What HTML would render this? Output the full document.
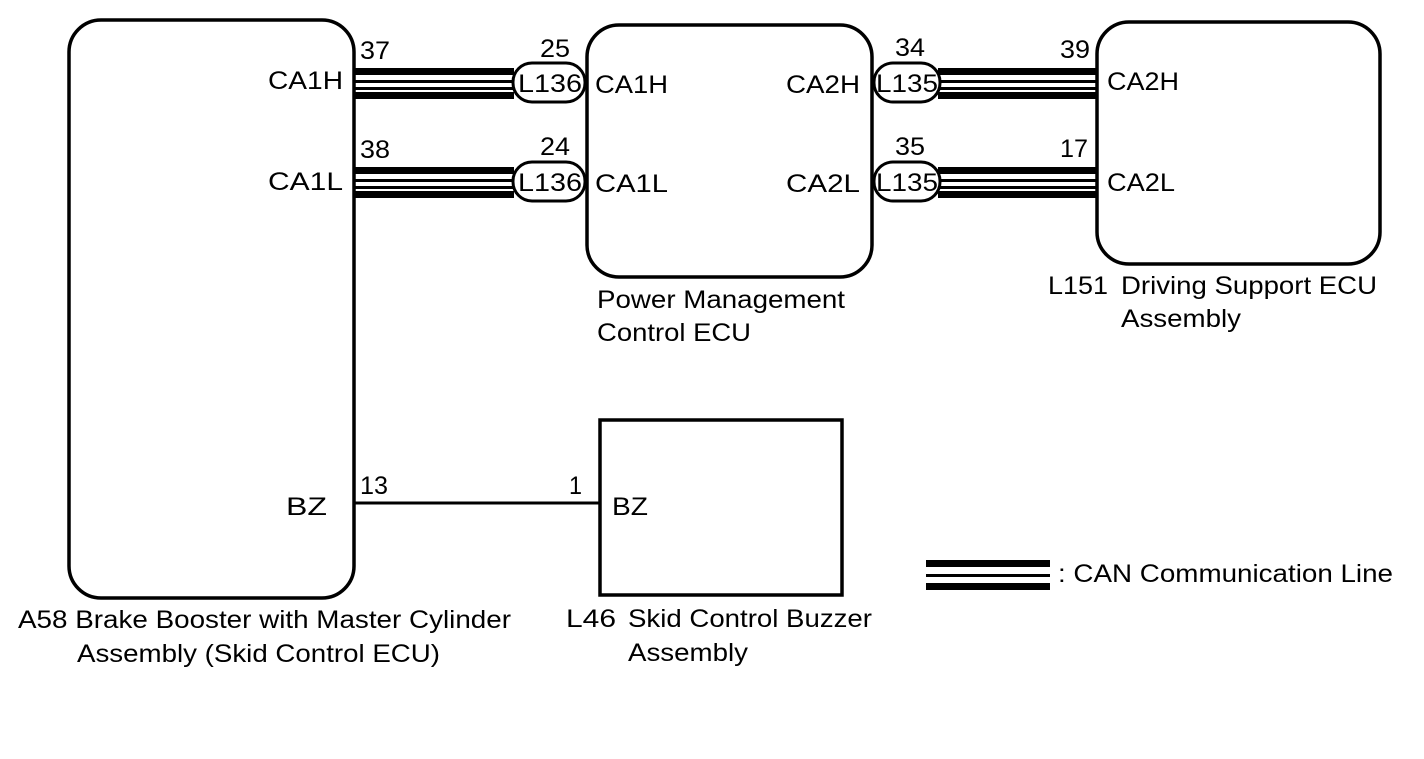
<!DOCTYPE html>
<html><head><meta charset="utf-8"><style>
html,body{margin:0;padding:0;background:#fff;}
svg{display:block;}
text{font-family:"Liberation Sans",Arial,sans-serif;font-size:25px;fill:#000;}
</style></head><body>
<svg width="1424" height="759" viewBox="0 0 1424 759" xmlns="http://www.w3.org/2000/svg">
<g fill="none" stroke="#000" stroke-width="3.5">
<rect x="69" y="20" width="285" height="578" rx="32"/>
<rect x="587" y="25" width="285" height="252" rx="32"/>
<rect x="1097" y="22" width="283" height="242" rx="32"/>
<rect x="600" y="420" width="242" height="175"/>
<line x1="354" y1="503" x2="600" y2="503" stroke-width="3"/>
</g>
<g fill="#000">
<rect x="354" y="68" width="160" height="7"/><rect x="354" y="80" width="160" height="3"/><rect x="354" y="87" width="160" height="3"/><rect x="354" y="92" width="160" height="7"/>
<rect x="354" y="167" width="160" height="7"/><rect x="354" y="179" width="160" height="3"/><rect x="354" y="186" width="160" height="3"/><rect x="354" y="191" width="160" height="7"/>
<rect x="938" y="68" width="159" height="7"/><rect x="938" y="80" width="159" height="3"/><rect x="938" y="87" width="159" height="3"/><rect x="938" y="92" width="159" height="7"/>
<rect x="938" y="167" width="159" height="7"/><rect x="938" y="179" width="159" height="3"/><rect x="938" y="186" width="159" height="3"/><rect x="938" y="191" width="159" height="7"/>
<rect x="926" y="560" width="124" height="7"/><rect x="926" y="574" width="124" height="3"/><rect x="926" y="583" width="124" height="7"/>
</g>
<g fill="#fff" stroke="#000" stroke-width="3">
<rect x="513" y="63" width="72" height="39" rx="19"/>
<rect x="513" y="162" width="72" height="39" rx="19"/>
<rect x="874" y="63" width="66" height="39" rx="19"/>
<rect x="874" y="162" width="66" height="39" rx="19"/>
</g>
<g lengthAdjust="spacingAndGlyphs">
<text x="518" y="92" textLength="64" lengthAdjust="spacingAndGlyphs">L136</text>
<text x="518" y="191" textLength="64" lengthAdjust="spacingAndGlyphs">L136</text>
<text x="876" y="92" textLength="62" lengthAdjust="spacingAndGlyphs">L135</text>
<text x="876" y="191" textLength="62" lengthAdjust="spacingAndGlyphs">L135</text>
<text x="268" y="89" textLength="75" lengthAdjust="spacingAndGlyphs">CA1H</text>
<text x="268" y="190" textLength="75" lengthAdjust="spacingAndGlyphs">CA1L</text>
<text x="360" y="59" textLength="30" lengthAdjust="spacingAndGlyphs">37</text><text x="360" y="158" textLength="30" lengthAdjust="spacingAndGlyphs">38</text>
<text x="540" y="57" textLength="30" lengthAdjust="spacingAndGlyphs">25</text><text x="540" y="155" textLength="30" lengthAdjust="spacingAndGlyphs">24</text>
<text x="595" y="93" textLength="73" lengthAdjust="spacingAndGlyphs">CA1H</text><text x="595" y="192" textLength="73" lengthAdjust="spacingAndGlyphs">CA1L</text>
<text x="786" y="93" textLength="74" lengthAdjust="spacingAndGlyphs">CA2H</text><text x="786" y="192" textLength="74" lengthAdjust="spacingAndGlyphs">CA2L</text>
<text x="895" y="56" textLength="30" lengthAdjust="spacingAndGlyphs">34</text><text x="895" y="155" textLength="30" lengthAdjust="spacingAndGlyphs">35</text>
<text x="1060" y="58" textLength="30" lengthAdjust="spacingAndGlyphs">39</text><text x="1060" y="157" textLength="28" lengthAdjust="spacingAndGlyphs">17</text>
<text x="1107" y="90" textLength="72" lengthAdjust="spacingAndGlyphs">CA2H</text><text x="1107" y="191" textLength="68" lengthAdjust="spacingAndGlyphs">CA2L</text>
<text x="597" y="308" textLength="248" lengthAdjust="spacingAndGlyphs">Power Management</text>
<text x="597" y="341" textLength="154" lengthAdjust="spacingAndGlyphs">Control ECU</text>
<text x="1048" y="294" textLength="60" lengthAdjust="spacingAndGlyphs">L151</text>
<text x="1121" y="294" textLength="256" lengthAdjust="spacingAndGlyphs">Driving Support ECU</text>
<text x="1121" y="327" textLength="120" lengthAdjust="spacingAndGlyphs">Assembly</text>
<text x="286" y="515" textLength="41" lengthAdjust="spacingAndGlyphs">BZ</text>
<text x="612" y="515" textLength="36" lengthAdjust="spacingAndGlyphs">BZ</text>
<text x="360" y="494" textLength="28" lengthAdjust="spacingAndGlyphs">13</text><text x="569" y="494" textLength="13" lengthAdjust="spacingAndGlyphs">1</text>
<text x="18" y="628" textLength="493" lengthAdjust="spacingAndGlyphs">A58 Brake Booster with Master Cylinder</text>
<text x="77" y="662" textLength="363" lengthAdjust="spacingAndGlyphs">Assembly (Skid Control ECU)</text>
<text x="566" y="627" textLength="50" lengthAdjust="spacingAndGlyphs">L46</text>
<text x="628" y="627" textLength="244" lengthAdjust="spacingAndGlyphs">Skid Control Buzzer</text>
<text x="628" y="661" textLength="120" lengthAdjust="spacingAndGlyphs">Assembly</text>
<text x="1058" y="582" textLength="335" lengthAdjust="spacingAndGlyphs">: CAN Communication Line</text>
</g>
</svg>
</body></html>
